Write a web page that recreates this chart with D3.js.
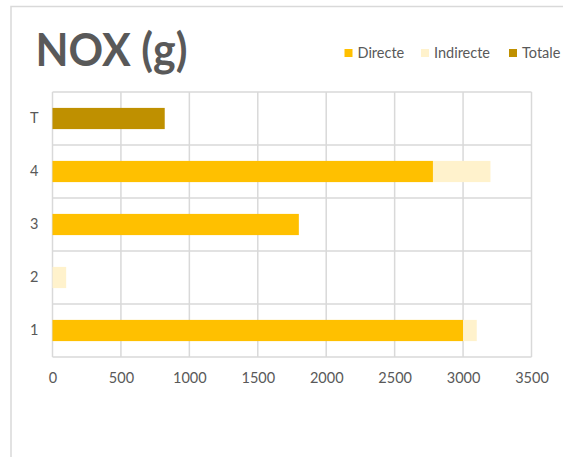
<!DOCTYPE html>
<html>
<head>
<meta charset="utf-8">
<script src="https://cdn.jsdelivr.net/npm/d3@7"></script>
<style>
  html, body { margin: 0; padding: 0; background: #fff; }
  svg { display: block; }
</style>
</head>
<body>
<svg id="chart" width="563" height="457"></svg>
<script>
// NOx emissions (g) per stage, split into direct / indirect, plus the total
const categories = ["1", "2", "3", "4", "T"];
const seriesNames = ["Directe", "Indirecte", "Totale"];
const directe   = [3000, 0, 1800, 2780, 0];
const indirecte = [100, 100, 0, 420, 0];
const totale    = [0, 0, 0, 0, 820];
const xTicks = [0, 500, 1000, 1500, 2000, 2500, 3000, 3500];
const colors = ["#FFC000", "#FFF2CC", "#BF9000"];

const rows = categories.map((c, i) => ({
  cat: c, Directe: directe[i], Indirecte: indirecte[i], Totale: totale[i]
}));

const svg = d3.select("#chart");
const font = "Lato, 'Liberation Sans', Arial, sans-serif";
const textColor = "#595959";
const gridColor = "#d9d9d9";

// chart frame
svg.append("rect")
  .attr("x", 11).attr("y", 6.5)
  .attr("width", 600).attr("height", 500)
  .attr("fill", "#fff").attr("stroke", gridColor).attr("stroke-width", 1.5);

const plot = { left: 52.5, right: 531.5, top: 92, bottom: 357 };

const x = d3.scaleLinear().domain([0, 3500]).range([plot.left, plot.right]);
const y = d3.scaleBand()
  .domain(categories.slice().reverse())
  .range([plot.top, plot.bottom])
  .paddingInner(0.6)
  .paddingOuter(0.3);

// vertical gridlines
svg.append("g").selectAll("line").data(xTicks).join("line")
  .attr("x1", d => x(d)).attr("x2", d => x(d))
  .attr("y1", plot.top).attr("y2", plot.bottom)
  .attr("stroke", gridColor).attr("stroke-width", 1.5);

// horizontal gridlines at category boundaries
const step = y.step();
const bounds = d3.range(categories.length + 1).map(i => plot.top + i * step);
svg.append("g").selectAll("line").data(bounds).join("line")
  .attr("x1", plot.left).attr("x2", plot.right)
  .attr("y1", d => d).attr("y2", d => d)
  .attr("stroke", gridColor).attr("stroke-width", 1.5);

// stacked bars
const stacked = d3.stack().keys(seriesNames)(rows);
svg.append("g").selectAll("g").data(stacked).join("g")
  .attr("fill", (d, i) => colors[i])
  .selectAll("rect").data(d => d.filter(p => p[1] - p[0] > 0)).join("rect")
  .attr("x", d => x(d[0]))
  .attr("width", d => x(d[1]) - x(d[0]))
  .attr("y", d => y(d.data.cat))
  .attr("height", y.bandwidth());

// x axis labels
const xAxis = svg.append("g")
  .attr("transform", `translate(0,${plot.bottom + 10})`)
  .call(d3.axisBottom(x).tickValues(xTicks).tickSize(0).tickPadding(6).tickFormat(d3.format("d")));
xAxis.select(".domain").remove();
xAxis.selectAll("text")
  .attr("fill", textColor).style("font-family", font).style("font-size", "14.5px");

// y axis labels
const yAxis = svg.append("g")
  .attr("transform", `translate(${plot.left - 14},0)`)
  .call(d3.axisLeft(y).tickSize(0).tickPadding(0));
yAxis.select(".domain").remove();
yAxis.selectAll("text")
  .attr("fill", textColor).style("font-family", font).style("font-size", "14.5px");

// title
svg.append("text")
  .attr("x", 35.5).attr("y", 66)
  .attr("fill", textColor)
  .attr("textLength", 152).attr("lengthAdjust", "spacingAndGlyphs")
  .style("font-family", font).style("font-size", "46px").style("font-weight", "bold")
  .text("NOX (g)");

// legend
const legendX = [344.5, 421, 509];
const legend = svg.append("g").selectAll("g").data(seriesNames).join("g")
  .attr("transform", (d, i) => `translate(${legendX[i]},49)`);
legend.append("rect")
  .attr("width", 8).attr("height", 8)
  .attr("fill", (d, i) => colors[i]);
legend.append("text")
  .attr("x", 13).attr("y", 8.7)
  .attr("fill", textColor)
  .style("font-family", font).style("font-size", "14.5px")
  .text(d => d);
</script>
</body>
</html>
